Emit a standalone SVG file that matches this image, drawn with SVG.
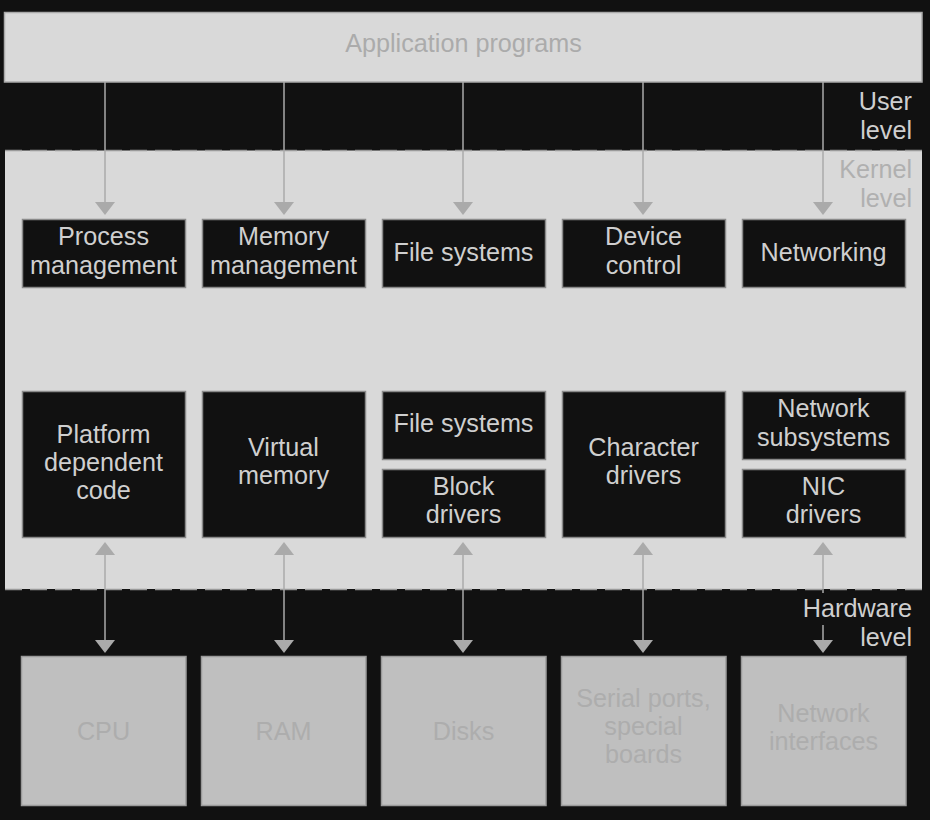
<svg xmlns="http://www.w3.org/2000/svg" width="930" height="820" viewBox="0 0 930 820">
<style>
text{font-family:"Liberation Sans",Arial,Helvetica,sans-serif;font-size:25.2px;text-anchor:middle}
.k rect{fill:#111;stroke:#8a8a8a;stroke-width:1.5}
.k text{fill:#cfcfcf}
.hw rect{fill:#bfbfbf;stroke:#9a9a9a;stroke-width:1.5}
.hw text{fill:#adadad}
.lbl{text-anchor:end}
.conn path{stroke:#aaa;stroke-width:1.5;fill:none}
.dash{stroke:#9a9a9a;stroke-width:1.5;stroke-dasharray:17 8}
</style>
<defs>
<marker id="ah" markerUnits="userSpaceOnUse" markerWidth="14" markerHeight="20" viewBox="0 0 13 20" refX="0" refY="10" orient="auto-start-reverse">
<path d="M0,0 L13,10 L0,20 Z" fill="#aaa"/>
</marker>
</defs>
<rect width="930" height="820" fill="#111"/>
<g id="app">
<rect x="4.5" y="12.5" width="917.5" height="69.5" fill="#d9d9d9" stroke="#aaa" stroke-width="1.5"/>
<text x="463.5" y="52" fill="#ababab">Application programs</text>
</g>
<g id="kernel-area">
<rect x="5" y="150.5" width="917" height="438.5" fill="#d9d9d9"/>
<line class="dash" x1="5" y1="150.5" x2="922" y2="150.5"/>
<line class="dash" x1="5" y1="589.5" x2="922" y2="589.5"/>
</g>
<g id="labels">
<text class="lbl" x="912" y="110" fill="#cfcfcf">User</text>
<text class="lbl" x="912" y="139" fill="#cfcfcf">level</text>
<text class="lbl" x="912" y="178" fill="#b0b0b0">Kernel</text>
<text class="lbl" x="912" y="207" fill="#b0b0b0">level</text>
<text class="lbl" x="912" y="617" fill="#cfcfcf">Hardware</text>
<text class="lbl" x="912" y="646" fill="#cfcfcf">level</text>
</g>
<g id="process-management" class="k"><rect x="22.5" y="219.5" width="163" height="68"/><text x="103.5" y="245">Process</text><text x="103.5" y="274">management</text></g>
<g id="memory-management" class="k"><rect x="202.5" y="219.5" width="163" height="68"/><text x="283.5" y="245">Memory</text><text x="283.5" y="274">management</text></g>
<g id="file-systems-top" class="k"><rect x="382.5" y="219.5" width="163" height="68"/><text x="463.5" y="261">File systems</text></g>
<g id="device-control" class="k"><rect x="562.5" y="219.5" width="163" height="68"/><text x="643.5" y="245">Device</text><text x="643.5" y="274">control</text></g>
<g id="networking" class="k"><rect x="742.5" y="219.5" width="163" height="68"/><text x="823.5" y="261">Networking</text></g>
<g id="platform-code" class="k"><rect x="22.5" y="391.5" width="163" height="146"/><text x="103.5" y="443">Platform</text><text x="103.5" y="471">dependent</text><text x="103.5" y="499">code</text></g>
<g id="virtual-memory" class="k"><rect x="202.5" y="391.5" width="163" height="146"/><text x="283.5" y="456">Virtual</text><text x="283.5" y="484">memory</text></g>
<g id="file-systems-bottom" class="k"><rect x="382.5" y="391.5" width="163" height="68"/><text x="463.5" y="432">File systems</text></g>
<g id="block-drivers" class="k"><rect x="382.5" y="469.5" width="163" height="68"/><text x="463.5" y="495">Block</text><text x="463.5" y="523">drivers</text></g>
<g id="character-drivers" class="k"><rect x="562.5" y="391.5" width="163" height="146"/><text x="643.5" y="456">Character</text><text x="643.5" y="484">drivers</text></g>
<g id="network-subsystems" class="k"><rect x="742.5" y="391.5" width="163" height="68"/><text x="823.5" y="417">Network</text><text x="823.5" y="446">subsystems</text></g>
<g id="nic-drivers" class="k"><rect x="742.5" y="469.5" width="163" height="68"/><text x="823.5" y="495">NIC</text><text x="823.5" y="523">drivers</text></g>
<g id="cpu" class="hw"><rect x="21.5" y="656.5" width="164.5" height="149"/><text x="103.5" y="740">CPU</text></g>
<g id="ram" class="hw"><rect x="201.5" y="656.5" width="164.5" height="149"/><text x="283.5" y="740">RAM</text></g>
<g id="disks" class="hw"><rect x="381.5" y="656.5" width="164.5" height="149"/><text x="463.5" y="740">Disks</text></g>
<g id="serial-ports" class="hw"><rect x="561.5" y="656.5" width="164.5" height="149"/><text x="643.5" y="707">Serial ports,</text><text x="643.5" y="735">special</text><text x="643.5" y="763">boards</text></g>
<g id="network-interfaces" class="hw"><rect x="741.5" y="656.5" width="164.5" height="149"/><text x="823.5" y="722">Network</text><text x="823.5" y="750">interfaces</text></g>
<g id="connectors" class="conn">
<path d="M105,82 L105,202" marker-end="url(#ah)"/>
<path d="M284,82 L284,202" marker-end="url(#ah)"/>
<path d="M463,82 L463,202" marker-end="url(#ah)"/>
<path d="M643,82 L643,202" marker-end="url(#ah)"/>
<path d="M823,82 L823,202" marker-end="url(#ah)"/>
<path d="M105,555 L105,640" marker-start="url(#ah)" marker-end="url(#ah)"/>
<path d="M284,555 L284,640" marker-start="url(#ah)" marker-end="url(#ah)"/>
<path d="M463,555 L463,640" marker-start="url(#ah)" marker-end="url(#ah)"/>
<path d="M643,555 L643,640" marker-start="url(#ah)" marker-end="url(#ah)"/>
<path d="M823,555 L823,593 M823,625 L823,640" marker-start="url(#ah)" marker-end="url(#ah)"/>
</g>
</svg>
